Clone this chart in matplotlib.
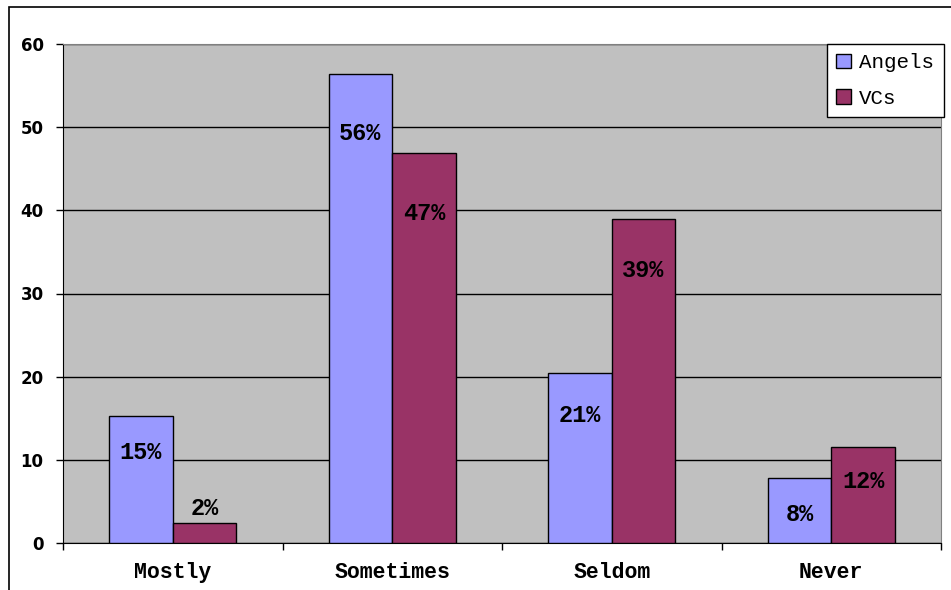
import matplotlib.pyplot as plt
from matplotlib.patches import Rectangle, Patch

# survey answers per category, in percent
categories = ['Mostly', 'Sometimes', 'Seldom', 'Never']
angels = [15.3, 56.4, 20.4, 7.8]
vcs = [2.4, 46.9, 38.9, 11.5]
angels_labels = ['15%', '56%', '21%', '8%']
vcs_labels = ['2%', '47%', '39%', '12%']

# how far below the bar top each label sits (pixels, negative = above)
angels_offset = [37, 60, 42, 36]
vcs_offset = [-15, 61, 51, 34]

mono = 'Liberation Mono'
angel_col = '#9999FF'
vc_col = '#993366'

fig = plt.figure(figsize=(9.51, 5.90), dpi=100)
ax = fig.add_axes([63/951, 1 - 543/590, (941 - 63)/951, (543 - 44)/590])

# chart-area frame, runs off the right and bottom edges
fig.patches.append(Rectangle((9/951, -0.05), 1.2, 1 - 7/590 + 0.05,
                             transform=fig.transFigure, fill=False,
                             edgecolor='black', lw=1.2, clip_on=False))

ax.set_facecolor('#C0C0C0')
w = 0.29
x = range(len(categories))
b1 = ax.bar([i - w/2 for i in x], angels, w, color=angel_col,
            edgecolor='black', lw=1, zorder=3)
b2 = ax.bar([i + w/2 for i in x], vcs, w, color=vc_col,
            edgecolor='black', lw=1, zorder=3)

for bars, labels, offs in ((b1, angels_labels, angels_offset),
                           (b2, vcs_labels, vcs_offset)):
    for rect, lab, off in zip(bars, labels, offs):
        ax.annotate(lab, (rect.get_x() + rect.get_width()/2, rect.get_height()),
                    xytext=(0, -off), textcoords='offset pixels',
                    ha='center', va='center', fontfamily=mono,
                    fontweight='bold', fontsize=17, zorder=4)

ax.set_ylim(0, 60)
ax.set_xlim(-0.5, 3.5)
ax.set_yticks(range(0, 61, 10))
ax.yaxis.grid(True, color='black', lw=1, zorder=1)
ax.set_axisbelow(True)

ax.set_xticks(list(x))
ax.set_xticklabels(categories, fontfamily=mono, fontweight='bold', fontsize=15.5)
ax.set_xticks([-0.5, 0.5, 1.5, 2.5, 3.5], minor=True)
ax.tick_params(axis='x', which='major', length=0, pad=14)
ax.tick_params(axis='x', which='minor', length=5, width=1, color='black')
ax.tick_params(axis='y', length=5, width=1, pad=9, labelsize=12)
for t in ax.get_yticklabels():
    t.set_fontweight('bold')
    t.set_fontfamily('DejaVu Sans')

for side in ('top', 'right'):
    ax.spines[side].set_color('#808080')
ax.spines['left'].set_color('black')
ax.spines['bottom'].set_color('black')

handles = [Patch(facecolor=angel_col, edgecolor='black', label='Angels'),
           Patch(facecolor=vc_col, edgecolor='black', label='VCs')]
leg = ax.legend(handles=handles, loc='upper right',
                bbox_to_anchor=(1.003, 1.0), prop={'family': mono, 'size': 15},
                fancybox=False, framealpha=1, edgecolor='black',
                handlelength=0.7, handleheight=0.7, handletextpad=0.4,
                borderpad=0.45, labelspacing=0.8, borderaxespad=0)
leg.get_frame().set_linewidth(1)

fig.savefig('out.png', dpi=100)
